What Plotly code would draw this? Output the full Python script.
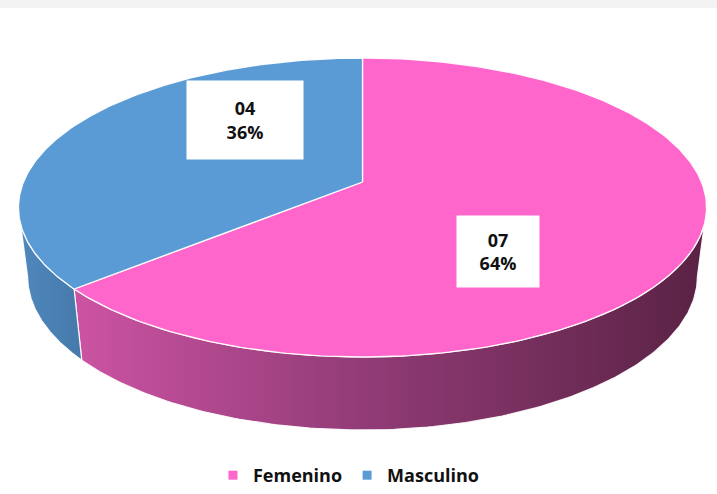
import numpy as np
import plotly.graph_objects as go

# ---- data ----
categories = ["Femenino", "Masculino"]
counts = [7, 4]
count_labels = ["07", "04"]
pct_labels = ["64%", "36%"]

top_colors = ["#FF66CC", "#5B9BD5"]
side_scales = [
    [[0, "#CC53A3"], [0.45, "#923C77"], [1, "#5A2244"]],
    [[0, "#4F88BE"], [1, "#4679AA"]],
]

# ---- geometry (layout constants, pixel space, simple perspective) ----
CX = 362.5
P = 0.1706                      # perspective strength
TOP = dict(cy=182.0, a=339.0, b=145.15)
BOT = dict(cy=250.3, a=330.0, b=149.0)

def proj(theta_deg, face):
    t = np.radians(theta_deg)
    X, Z = np.sin(t), -np.cos(t)
    s = 1.0 / (1.0 - P * Z)
    return CX + face["a"] * X * s, face["cy"] + face["b"] * Z * s

total = sum(counts)
bounds = [0.0]
for c in counts:
    bounds.append(bounds[-1] + 360.0 * c / total)

# silhouette angles of the wall
sil = np.degrees(np.arccos(-P))
vis0, vis1 = sil, 360 - sil

fig = go.Figure()

# side walls
for i in range(len(counts)):
    a0, a1 = max(bounds[i], vis0), min(bounds[i + 1], vis1)
    if a1 <= a0:
        continue
    th = np.linspace(a0, a1, 160)
    xt, yt = proj(th, TOP)
    xb, yb = proj(th[::-1], BOT)
    xs = np.concatenate([xt, xb, xt[:1]])
    ys = np.concatenate([yt, yb, yt[:1]])
    fig.add_trace(go.Scatter(
        x=xs, y=ys, mode="lines", fill="toself",
        fillgradient=dict(type="horizontal", colorscale=side_scales[i]),
        line=dict(color="rgba(255,255,255,0.9)", width=1.2),
        hoverinfo="skip", showlegend=False))

# top faces
for i in range(len(counts)):
    th = np.linspace(bounds[i], bounds[i + 1], 240)
    xa, ya = proj(th, TOP)
    xc, yc = proj(np.array([0.0]), dict(cy=TOP["cy"], a=0.0, b=0.0))
    xs = np.concatenate([xc, xa, xc])
    ys = np.concatenate([yc, ya, yc])
    fig.add_trace(go.Scatter(
        x=xs, y=ys, mode="lines", fill="toself", fillcolor=top_colors[i],
        line=dict(color="rgba(255,255,255,0.95)", width=1.3),
        hoverinfo="skip", showlegend=False))

# legend entries
for i, cat in enumerate(categories):
    fig.add_trace(go.Scatter(
        x=[None], y=[None], mode="markers", name=cat,
        marker=dict(symbol="square", size=9, color=top_colors[i])))

# data labels
label_pos = [(498, 251), (245, 120)]
label_size = [(80, 69), (114, 76)]
for i in range(len(counts)):
    fig.add_annotation(
        x=label_pos[i][0], y=label_pos[i][1], xref="x", yref="y",
        text=f"<b>{count_labels[i]}<br>{pct_labels[i]}</b>",
        showarrow=False, bgcolor="white",
        width=label_size[i][0], height=label_size[i][1],
        font=dict(family="Open Sans", size=18, color="#111111"),
        align="center", valign="middle")

fig.update_layout(
    width=717, height=494,
    margin=dict(l=0, r=0, t=0, b=0, autoexpand=False),
    paper_bgcolor="white", plot_bgcolor="white",
    xaxis=dict(range=[0, 717], visible=False, fixedrange=True),
    yaxis=dict(range=[494, 0], visible=False, fixedrange=True),
    showlegend=True,
    legend=dict(orientation="h", x=0.486, xanchor="center", y=0, yanchor="bottom",
                font=dict(family="Open Sans", size=18, color="#111111", weight="bold"),
                itemwidth=30, tracegroupgap=0, bgcolor="rgba(0,0,0,0)"),
    shapes=[dict(type="rect", xref="paper", yref="paper", x0=0, x1=1,
                 y0=1 - 8 / 494, y1=1, fillcolor="#F3F3F3", line=dict(width=0),
                 layer="below")],
)

fig.write_html("out.html", config={"displayModeBar": False},
               post_script="document.body.style.margin='0';document.body.style.overflow='hidden';")
